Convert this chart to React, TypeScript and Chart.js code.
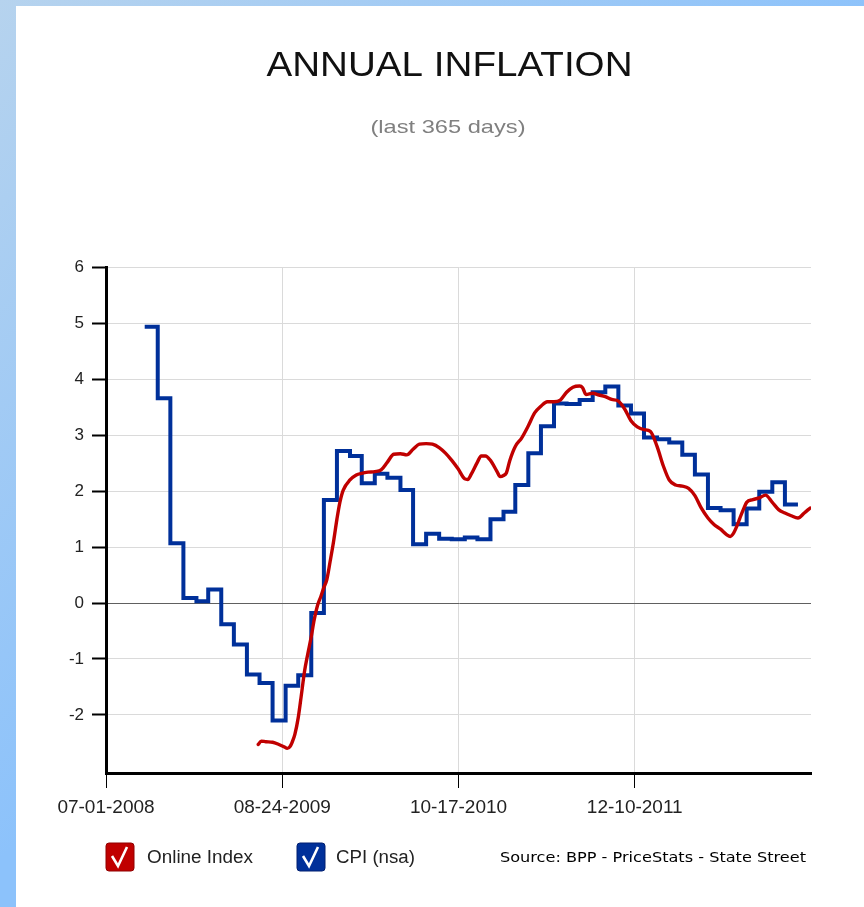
import React, { useEffect, useRef } from "react";
import { Chart, registerables } from "chart.js";

Chart.register(...registerables);

// ---------- data ----------
const START_DATE = "2008-07-01";
const END_DATE = "2013-02-01";
const xTickDates = ["2008-07-01", "2009-08-24", "2010-10-17", "2011-12-10"];
const yTickValues = [-2, -1, 0, 1, 2, 3, 4, 5, 6];
const yMin = -3.04;
const yMax = 6;

// CPI (nsa): monthly steps, each value starts at the given date
const cpiDates = [
  "2008-10-01", "2008-11-01", "2008-12-01", "2009-01-01", "2009-02-01", "2009-03-01",
  "2009-04-01", "2009-05-01", "2009-06-01", "2009-07-01", "2009-08-01", "2009-09-01",
  "2009-10-01", "2009-11-01", "2009-12-01", "2010-01-01", "2010-02-01", "2010-03-01",
  "2010-04-01", "2010-05-01", "2010-06-01", "2010-07-01", "2010-08-01", "2010-09-01",
  "2010-10-01", "2010-11-01", "2010-12-01", "2011-01-01", "2011-02-01", "2011-03-01",
  "2011-04-01", "2011-05-01", "2011-06-01", "2011-07-01", "2011-08-01", "2011-09-01",
  "2011-10-01", "2011-11-01", "2011-12-01", "2012-01-01", "2012-02-01", "2012-03-01",
  "2012-04-01", "2012-05-01", "2012-06-01", "2012-07-01", "2012-08-01", "2012-09-01",
  "2012-10-01", "2012-11-01", "2012-12-01",
];
const cpiValues = [
  4.94, 3.66, 1.07, 0.09, 0.03, 0.24,
  -0.38, -0.74, -1.28, -1.43, -2.1, -1.48,
  -1.29, -0.18, 1.84, 2.72, 2.63, 2.14,
  2.31, 2.24, 2.02, 1.05, 1.24, 1.15,
  1.14, 1.17, 1.14, 1.5, 1.63, 2.11,
  2.68, 3.16, 3.57, 3.56, 3.63, 3.77,
  3.87, 3.53, 3.39, 2.96, 2.93, 2.87,
  2.65, 2.3, 1.7, 1.66, 1.41, 1.69,
  1.99, 2.16, 1.76,
];
const cpiEndDate = "2013-01-01";

// Online Index (daily series, sampled)
const onlineDates = [
  "2009-06-28", "2009-07-05", "2009-07-16", "2009-08-01", "2009-08-16", "2009-08-28",
  "2009-09-05", "2009-09-12", "2009-09-16", "2009-09-23", "2009-10-01", "2009-10-08",
  "2009-10-16", "2009-10-24", "2009-11-01", "2009-11-08", "2009-11-16", "2009-11-24",
  "2009-12-01", "2009-12-08", "2009-12-16", "2009-12-24", "2010-01-01", "2010-01-08",
  "2010-01-16", "2010-02-01", "2010-02-16", "2010-03-01", "2010-03-16", "2010-04-01",
  "2010-04-16", "2010-05-01", "2010-05-16", "2010-06-01", "2010-06-16", "2010-07-01",
  "2010-07-16", "2010-08-01", "2010-08-16", "2010-09-01", "2010-09-16", "2010-10-01",
  "2010-10-16", "2010-11-01", "2010-11-08", "2010-11-16", "2010-12-01", "2010-12-10",
  "2010-12-20", "2011-01-01", "2011-01-16", "2011-01-24", "2011-02-01", "2011-02-08",
  "2011-02-16", "2011-03-01", "2011-03-16", "2011-04-01", "2011-04-16", "2011-05-01",
  "2011-05-16", "2011-06-01", "2011-06-16", "2011-07-01", "2011-07-16", "2011-08-01",
  "2011-08-08", "2011-08-16", "2011-09-01", "2011-09-16", "2011-10-01", "2011-10-16",
  "2011-11-01", "2011-11-16", "2011-12-01", "2011-12-16", "2012-01-01", "2012-01-16",
  "2012-02-01", "2012-02-16", "2012-03-01", "2012-03-16", "2012-04-01", "2012-04-16",
  "2012-05-01", "2012-05-16", "2012-06-01", "2012-06-16", "2012-07-01", "2012-07-16",
  "2012-07-24", "2012-08-01", "2012-08-08", "2012-08-16", "2012-08-24", "2012-09-01",
  "2012-09-16", "2012-10-01", "2012-10-16", "2012-11-01", "2012-11-16", "2012-12-01",
  "2012-12-16", "2013-01-01", "2013-01-16", "2013-01-30",
];
const onlineValues = [
  -2.53, -2.47, -2.48, -2.49, -2.53, -2.57,
  -2.6, -2.56, -2.5, -2.35, -2.05, -1.67,
  -1.22, -0.9, -0.6, -0.3, -0.04, 0.12,
  0.28, 0.42, 0.75, 1.1, 1.5, 1.8,
  2.02, 2.2, 2.29, 2.32, 2.34, 2.35,
  2.38, 2.52, 2.66, 2.67, 2.65, 2.75,
  2.84, 2.85, 2.84, 2.78, 2.68, 2.55,
  2.4, 2.22, 2.21, 2.3, 2.52, 2.63,
  2.63, 2.55, 2.36, 2.26, 2.28, 2.33,
  2.55, 2.8, 2.95, 3.17, 3.4, 3.52,
  3.6, 3.6, 3.63, 3.77, 3.86, 3.88,
  3.85, 3.73, 3.75, 3.72, 3.69, 3.64,
  3.61, 3.47, 3.26, 3.15, 3.1, 3.07,
  2.8, 2.45, 2.2, 2.11, 2.09, 2.05,
  1.92, 1.7, 1.52, 1.4, 1.32, 1.22,
  1.19, 1.25, 1.36, 1.52, 1.67, 1.8,
  1.85, 1.88, 1.93, 1.8, 1.67, 1.61,
  1.56, 1.52, 1.61, 1.7,
];

const TITLE = "ANNUAL INFLATION";
const SUBTITLE = "(last 365 days)";
const LEGEND_ONLINE = "Online Index";
const LEGEND_CPI = "CPI (nsa)";
const SOURCE = "Source: BPP - PriceStats - State Street";

const RED = "#c00000";
const BLUE = "#00309a";

// ---------- helpers ----------
const T0 = Date.parse(START_DATE + "T00:00:00Z");
const dayOf = (s: string) => Math.round((Date.parse(s + "T00:00:00Z") - T0) / 86400000);
const fmtDay = (d: number) => {
  const t = new Date(T0 + d * 86400000);
  const mm = String(t.getUTCMonth() + 1).padStart(2, "0");
  const dd = String(t.getUTCDate()).padStart(2, "0");
  return `${mm}-${dd}-${t.getUTCFullYear()}`;
};

function drawFitted(
  ctx: CanvasRenderingContext2D,
  text: string,
  x: number,
  y: number,
  width: number,
  font: string,
  color: string,
  align: "left" | "center"
) {
  ctx.save();
  ctx.font = font;
  ctx.fillStyle = color;
  ctx.textBaseline = "alphabetic";
  ctx.textAlign = align;
  const w = ctx.measureText(text).width;
  const sx = width / w;
  ctx.translate(x, y);
  ctx.scale(sx, 1);
  ctx.fillText(text, 0, 0);
  ctx.restore();
}

function drawCheckBox(ctx: CanvasRenderingContext2D, x: number, y: number, color: string, edge: string) {
  const s = 28;
  const r = 3;
  ctx.save();
  ctx.beginPath();
  ctx.moveTo(x + r, y);
  ctx.lineTo(x + s - r, y);
  ctx.quadraticCurveTo(x + s, y, x + s, y + r);
  ctx.lineTo(x + s, y + s - r);
  ctx.quadraticCurveTo(x + s, y + s, x + s - r, y + s);
  ctx.lineTo(x + r, y + s);
  ctx.quadraticCurveTo(x, y + s, x, y + s - r);
  ctx.lineTo(x, y + r);
  ctx.quadraticCurveTo(x, y, x + r, y);
  ctx.closePath();
  ctx.fillStyle = color;
  ctx.fill();
  ctx.lineWidth = 1;
  ctx.strokeStyle = edge;
  ctx.stroke();
  ctx.beginPath();
  ctx.moveTo(x + 6, y + 13);
  ctx.lineTo(x + 12, y + 23);
  ctx.lineTo(x + 21, y + 4);
  ctx.strokeStyle = "#ffffff";
  ctx.lineWidth = 2.6;
  ctx.lineJoin = "miter";
  ctx.stroke();
  ctx.restore();
}

const decor = {
  id: "decor",
  beforeDraw(chart: any) {
    const ctx: CanvasRenderingContext2D = chart.ctx;
    const W = chart.width;
    const H = chart.height;
    ctx.save();
    const g = ctx.createLinearGradient(0, 0, 430, 450);
    g.addColorStop(0, "#b6d3ee");
    g.addColorStop(1, "#8cc2fb");
    ctx.fillStyle = g;
    ctx.fillRect(0, 0, W, H);
    ctx.fillStyle = "#ffffff";
    ctx.fillRect(16, 6, W - 16, H - 6);
    ctx.restore();
  },
  afterDraw(chart: any) {
    const ctx: CanvasRenderingContext2D = chart.ctx;
    drawFitted(ctx, TITLE, 449.5, 76, 366, '35px "Liberation Sans"', "#111111", "center");
    drawFitted(ctx, SUBTITLE, 448, 133, 155, '19px "Liberation Sans"', "#808080", "center");
    drawCheckBox(ctx, 106, 843, RED, "#900000");
    drawFitted(ctx, LEGEND_ONLINE, 147, 863, 106, '18px "Liberation Sans"', "#222222", "left");
    drawCheckBox(ctx, 297, 843, BLUE, "#001f70");
    drawFitted(ctx, LEGEND_CPI, 336, 863, 79, '18px "Liberation Sans"', "#222222", "left");
    drawFitted(ctx, SOURCE, 500, 862, 306, '14px "DejaVu Sans Condensed"', "#000000", "left");
  },
};

export default function App() {
  const ref = useRef<HTMLCanvasElement | null>(null);

  useEffect(() => {
    const canvas = ref.current;
    if (!canvas) return;

    const onlinePoints = onlineDates.map((d, i) => ({ x: dayOf(d), y: onlineValues[i] }));
    const cpiPoints = cpiDates.map((d, i) => ({ x: dayOf(d), y: cpiValues[i] }));
    cpiPoints.push({ x: dayOf(cpiEndDate), y: cpiValues[cpiValues.length - 1] });

    const xTicks = xTickDates.map(dayOf);

    const chart = new Chart(canvas, {
      type: "line",
      data: {
        datasets: [
          {
            label: LEGEND_ONLINE,
            data: onlinePoints,
            borderColor: RED,
            backgroundColor: RED,
            borderWidth: 3.4,
            pointRadius: 0,
            cubicInterpolationMode: "monotone",
            borderJoinStyle: "round",
            borderCapStyle: "round",
            fill: false,
            order: 0,
          },
          {
            label: LEGEND_CPI,
            data: cpiPoints,
            borderColor: BLUE,
            backgroundColor: BLUE,
            borderWidth: 4,
            pointRadius: 0,
            stepped: true,
            borderJoinStyle: "miter",
            borderCapStyle: "butt",
            fill: false,
            order: 1,
          },
        ],
      },
      options: {
        responsive: false,
        animation: false,
        devicePixelRatio: 1,
        layout: { padding: { top: 267.5, right: 53, left: 0, bottom: 0 } },
        plugins: {
          legend: { display: false },
          tooltip: { enabled: false },
          title: { display: false },
        },
        scales: {
          x: {
            type: "linear",
            min: 0,
            max: dayOf(END_DATE),
            afterBuildTicks: (s: any) => {
              s.ticks = xTicks.map((v) => ({ value: v }));
            },
            afterFit: (s: any) => {
              s.height = 134;
            },
            ticks: {
              autoSkip: false,
              maxRotation: 0,
              minRotation: 0,
              padding: 8,
              color: "#222222",
              font: { family: '"Liberation Sans"', size: 19 },
              callback: (v: any) => fmtDay(Number(v)),
            },
            grid: {
              color: "#dadada",
              lineWidth: 1,
              tickColor: "#000000",
              tickLength: 15,
              tickWidth: 1,
            },
            border: { color: "#000000", width: 3 },
          },
          y: {
            type: "linear",
            min: yMin,
            max: yMax,
            afterBuildTicks: (s: any) => {
              s.ticks = yTickValues.map((v) => ({ value: v }));
            },
            afterFit: (s: any) => {
              s.width = 106;
            },
            ticks: {
              padding: 8,
              color: "#222222",
              font: { family: '"Liberation Sans"', size: 17 },
              callback: (v: any) => String(v),
            },
            grid: {
              color: (c: any) => (c.tick && c.tick.value === 0 ? "#606060" : "#dadada"),
              lineWidth: 1,
              tickColor: "#000000",
              tickLength: 14,
              tickWidth: 2,
            },
            border: { color: "#000000", width: 3 },
          },
        },
      },
      plugins: [decor],
    } as any);

    return () => chart.destroy();
  }, []);

  return (
    <div style={{ position: "absolute", left: 0, top: 0, width: 864, height: 907 }}>
      <canvas ref={ref} width={864} height={907} style={{ display: "block", width: 864, height: 907 }} />
    </div>
  );
}
